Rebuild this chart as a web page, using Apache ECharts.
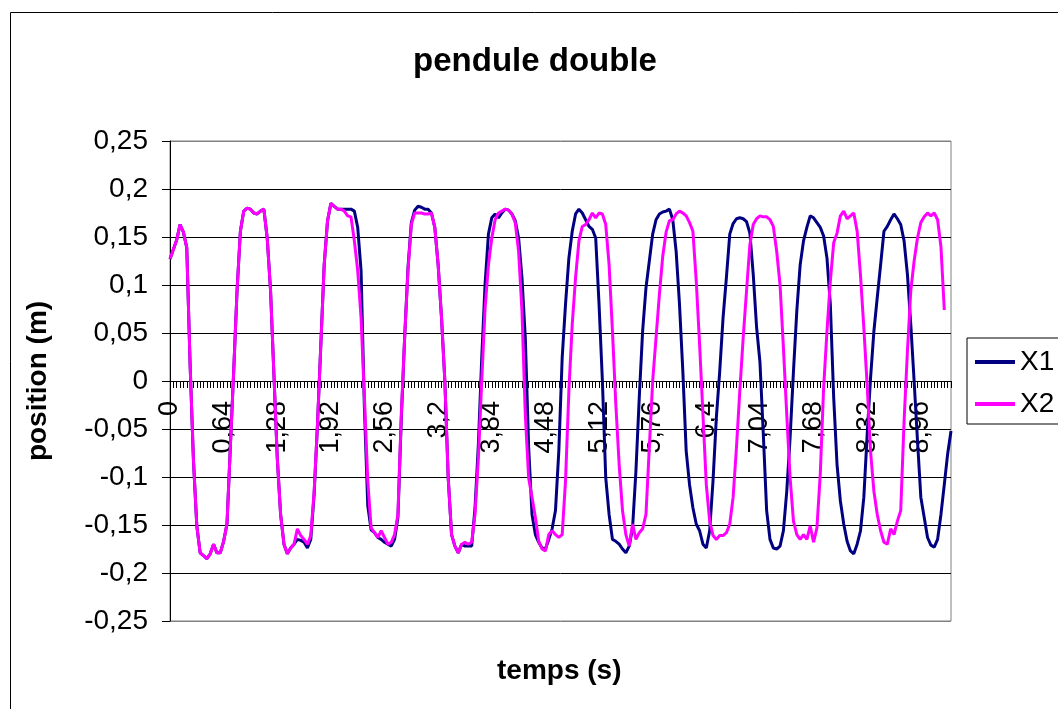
<!DOCTYPE html>
<html>
<head>
<meta charset="utf-8">
<script src="https://cdn.jsdelivr.net/npm/echarts@6/dist/echarts.min.js"></script>
<style>
  html, body { margin: 0; padding: 0; background: #fff; }
  #chart { width: 1058px; height: 709px; }
</style>
</head>
<body>
<div id="chart"></div>
<script>
// positions (m), un point toutes les 0,04 s
var dt = 0.04;
var x1 = [
  0.127, 0.137, 0.147, 0.163, 0.155, 0.139, 0.017, -0.083, -0.151, -0.179,
  -0.182, -0.185, -0.180, -0.170, -0.179, -0.179, -0.167, -0.149, -0.069, 0.010,
  0.094, 0.156, 0.177, 0.180, 0.179, 0.175, 0.174, 0.177, 0.179, 0.149,
  0.094, 0.007, -0.080, -0.139, -0.170, -0.180, -0.174, -0.170, -0.165, -0.166,
  -0.168, -0.174, -0.165, -0.118, -0.045, 0.038, 0.121, 0.167, 0.185, 0.182,
  0.179, 0.179, 0.179, 0.179, 0.179, 0.177, 0.160, 0.115, -0.028, -0.130,
  -0.155, -0.158, -0.163, -0.165, -0.168, -0.170, -0.172, -0.165, -0.142, -0.040,
  0.045, 0.118, 0.165, 0.178, 0.182, 0.181, 0.179, 0.179, 0.175, 0.160,
  0.121, 0.066, 0.000, -0.101, -0.160, -0.172, -0.179, -0.170, -0.172, -0.172,
  -0.172, -0.132, -0.066, 0.024, 0.101, 0.153, 0.170, 0.174, 0.170, 0.175,
  0.179, 0.178, 0.174, 0.167, 0.149, 0.108, 0.045, -0.069, -0.139, -0.160,
  -0.168, -0.174, -0.175, -0.165, -0.154, -0.135, -0.073, 0.024, 0.080, 0.128,
  0.156, 0.174, 0.179, 0.175, 0.168, 0.161, 0.158, 0.149, 0.080, 0.000,
  -0.101, -0.139, -0.165, -0.167, -0.170, -0.175, -0.179, -0.172, -0.153, -0.094,
  -0.017, 0.052, 0.097, 0.125, 0.153, 0.168, 0.174, 0.176, 0.177, 0.179,
  0.168, 0.135, 0.080, 0.010, -0.073, -0.108, -0.132, -0.149, -0.156, -0.170,
  -0.174, -0.156, -0.104, -0.038, 0.010, 0.066, 0.108, 0.153, 0.164, 0.169,
  0.170, 0.169, 0.166, 0.154, 0.111, 0.056, 0.020, -0.055, -0.135, -0.165,
  -0.174, -0.175, -0.172, -0.156, -0.115, -0.059, 0.010, 0.073, 0.121, 0.146,
  0.160, 0.172, 0.170, 0.165, 0.160, 0.151, 0.128, 0.080, -0.017, -0.087,
  -0.125, -0.149, -0.167, -0.177, -0.180, -0.170, -0.156, -0.121, -0.055, 0.003,
  0.052, 0.087, 0.121, 0.156, 0.161, 0.168, 0.174, 0.169, 0.163, 0.146,
  0.111, 0.059, 0.000, -0.062, -0.121, -0.142, -0.163, -0.171, -0.173, -0.165,
  -0.139, -0.108, -0.076, -0.052
];
var x2 = [
  0.127, 0.137, 0.147, 0.163, 0.155, 0.139, 0.017, -0.083, -0.151, -0.179,
  -0.182, -0.185, -0.180, -0.170, -0.179, -0.179, -0.167, -0.149, -0.069, 0.010,
  0.094, 0.156, 0.177, 0.180, 0.179, 0.175, 0.174, 0.177, 0.179, 0.149,
  0.094, 0.007, -0.080, -0.139, -0.170, -0.180, -0.174, -0.170, -0.154, -0.161,
  -0.165, -0.170, -0.161, -0.115, -0.045, 0.038, 0.121, 0.167, 0.185, 0.182,
  0.179, 0.179, 0.177, 0.172, 0.171, 0.146, 0.115, 0.066, -0.017, -0.104,
  -0.153, -0.158, -0.163, -0.156, -0.163, -0.170, -0.168, -0.160, -0.139, -0.035,
  0.045, 0.115, 0.163, 0.175, 0.175, 0.175, 0.174, 0.174, 0.175, 0.160,
  0.121, 0.066, 0.000, -0.101, -0.160, -0.172, -0.179, -0.170, -0.168, -0.170,
  -0.168, -0.139, -0.080, 0.000, 0.076, 0.121, 0.149, 0.168, 0.175, 0.177,
  0.179, 0.178, 0.174, 0.165, 0.135, 0.073, -0.035, -0.101, -0.121, -0.142,
  -0.167, -0.175, -0.177, -0.160, -0.156, -0.160, -0.163, -0.160, -0.104, -0.010,
  0.059, 0.108, 0.146, 0.161, 0.163, 0.168, 0.175, 0.170, 0.175, 0.174,
  0.163, 0.121, 0.052, -0.024, -0.087, -0.135, -0.160, -0.172, -0.149, -0.165,
  -0.158, -0.154, -0.139, -0.069, 0.000, 0.045, 0.090, 0.130, 0.155, 0.167,
  0.168, 0.174, 0.177, 0.175, 0.172, 0.165, 0.156, 0.104, 0.038, -0.035,
  -0.108, -0.146, -0.161, -0.165, -0.161, -0.161, -0.158, -0.149, -0.121, -0.069,
  -0.010, 0.045, 0.094, 0.142, 0.163, 0.169, 0.172, 0.171, 0.171, 0.168,
  0.161, 0.135, 0.100, 0.035, -0.035, -0.101, -0.146, -0.160, -0.165, -0.160,
  -0.165, -0.151, -0.168, -0.153, -0.097, -0.007, 0.052, 0.104, 0.144, 0.154,
  0.172, 0.177, 0.169, 0.172, 0.175, 0.156, 0.110, 0.055, -0.005, -0.073,
  -0.115, -0.139, -0.156, -0.168, -0.170, -0.154, -0.160, -0.146, -0.135, -0.042,
  0.031, 0.094, 0.125, 0.149, 0.165, 0.171, 0.175, 0.172, 0.175, 0.168,
  0.140, 0.074
];
// temps (s) : catégories de l'axe horizontal
var temps = x1.map(function(v, i) {
  return String(+(i * dt).toFixed(2)).replace('.', ',');
});

var font = 'Liberation Sans, Arial, sans-serif';
function virgule(v) {
  return String(+v.toFixed(2)).replace('.', ',');
}

var myChart = echarts.init(document.getElementById('chart'));
myChart.setOption({
  animation: false,
  backgroundColor: '#fff',
  title: {
    text: 'pendule double',
    left: 530,
    top: 40,
    textAlign: 'center',
    textStyle: { fontFamily: font, fontSize: 33, fontWeight: 'bold', color: '#000' }
  },
  legend: {
    orient: 'vertical',
    left: 967,
    top: 338,
    data: ['X1', 'X2'],
    icon: 'rect',
    itemWidth: 40,
    itemHeight: 4,
    itemGap: 14,
    padding: [10, 40, 6, 8],
    borderColor: '#000',
    borderWidth: 1,
    textStyle: { fontFamily: font, fontSize: 28, color: '#000' }
  },
  grid: {
    left: 170,
    top: 141,
    width: 781,
    height: 480,
    show: true,
    borderColor: '#808080',
    borderWidth: 1
  },
  xAxis: {
    type: 'category',
    data: temps,
    boundaryGap: false,
    // l'axe des temps passe par y = 0 (milieu de la zone)
    offset: -240,
    axisLine: { onZero: false, lineStyle: { color: '#000', width: 1 } },
    axisTick: { show: true, interval: 0, length: 7, lineStyle: { color: '#000' } },
    axisLabel: {
      interval: 15,
      rotate: 90,
      margin: 20,
      fontFamily: font,
      fontSize: 27,
      color: '#000'
    },
    splitLine: { show: false }
  },
  yAxis: {
    type: 'value',
    min: -0.25,
    max: 0.25,
    interval: 0.05,
    axisLine: { show: true, lineStyle: { color: '#000', width: 1 } },
    axisTick: { show: true, length: 8, lineStyle: { color: '#000' } },
    axisLabel: {
      margin: 22,
      fontFamily: font,
      fontSize: 28,
      color: '#000',
      formatter: virgule
    },
    splitLine: {
      show: true,
      lineStyle: {
        color: ['#808080', '#000', '#000', '#000', '#000', '#000', '#000', '#000', '#000', '#000', '#808080'],
        width: 1
      }
    }
  },
  graphic: [{
    type: 'rect',
    shape: { x: 10.5, y: 12.5, width: 1200, height: 1000 },
    style: { fill: 'none', stroke: '#000', lineWidth: 1 },
    z: -1
  }, {
    type: 'text',
    left: 497,
    top: 657,
    style: { text: 'temps (s)', fontFamily: font, fontSize: 28, fontWeight: 'bold', fill: '#000' }
  }, {
    type: 'text',
    x: 38,
    y: 381,
    rotation: Math.PI / 2,
    style: {
      text: 'position (m)', fontFamily: font, fontSize: 28, fontWeight: 'bold', fill: '#000',
      textAlign: 'center', textVerticalAlign: 'middle'
    }
  }],
  series: [{
    name: 'X1',
    type: 'line',
    data: x1,
    showSymbol: false,
    color: '#000080',
    lineStyle: { width: 3, color: '#000080' }
  }, {
    name: 'X2',
    type: 'line',
    data: x2,
    showSymbol: false,
    color: '#FF00FF',
    lineStyle: { width: 3, color: '#FF00FF' }
  }]
});
</script>
</body>
</html>
